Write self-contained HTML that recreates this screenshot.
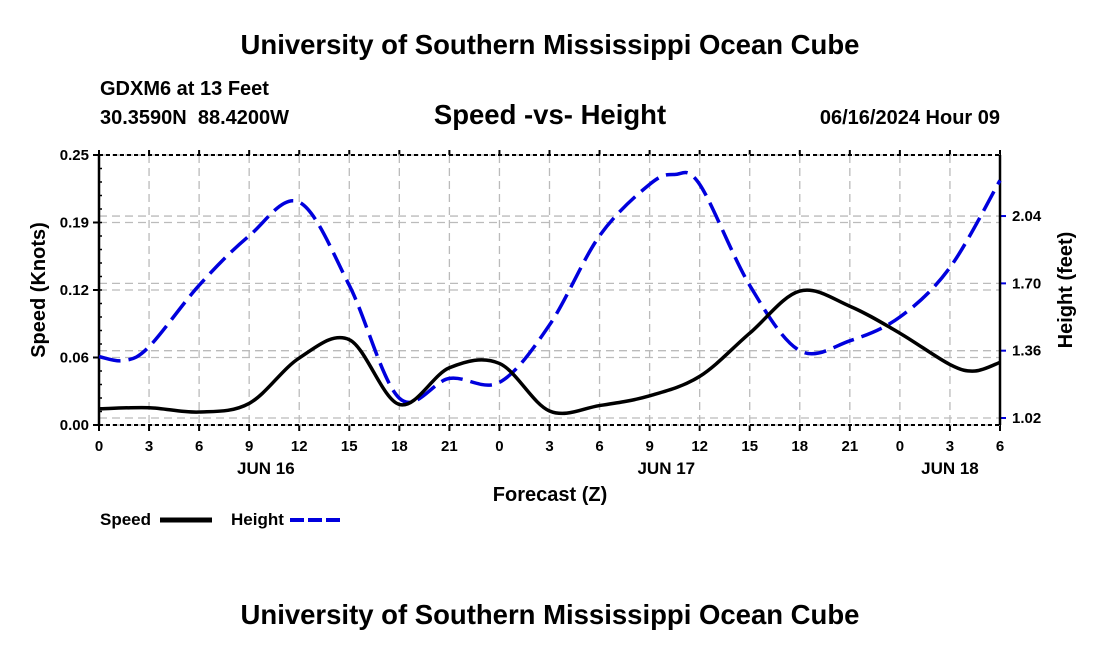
<!DOCTYPE html>
<html><head><meta charset="utf-8"><style>
body{margin:0;background:#fff;}
svg text{font-family:"Liberation Sans",Arial,sans-serif;font-weight:bold;fill:#000;}
</style></head><body>
<svg id="c" width="1100" height="650" viewBox="0 0 1100 650">
<text x="550" y="54" font-size="27.5" text-anchor="middle">University of Southern Mississippi Ocean Cube</text>
<text x="100" y="95" font-size="20">GDXM6 at 13 Feet</text>
<text x="100" y="124" font-size="20">30.3590N&#160;&#160;88.4200W</text>
<text x="550" y="124" font-size="27.5" text-anchor="middle">Speed -vs- Height</text>
<text x="1000" y="124" font-size="20" text-anchor="end">06/16/2024 Hour 09</text>
<text x="550" y="624" font-size="27.5" text-anchor="middle">University of Southern Mississippi Ocean Cube</text>
<text x="550" y="501" font-size="20" text-anchor="middle">Forecast (Z)</text>
<text transform="translate(45,290) rotate(-90)" font-size="20" text-anchor="middle">Speed (Knots)</text>
<text transform="translate(1072,290) rotate(-90)" font-size="20" text-anchor="middle">Height (feet)</text>
<g>
<text x="100" y="525" font-size="17">Speed</text>
<line x1="160" y1="520" x2="212" y2="520" stroke="#000" stroke-width="5"/>
<text x="231" y="525" font-size="17">Height</text>
<line x1="290" y1="520" x2="342" y2="520" stroke="#0000dd" stroke-width="4" stroke-dasharray="14,4"/>
</g>
<g id="plot"></g>
</svg>
<script>
const hours=[0,3,6,9,12,15,18,21,24,27,30,33,36,39,42,45,48,51,52.5,54];
const speed=[0.015,0.016,0.012,0.02,0.062,0.079,0.019,0.053,0.057,0.013,0.018,0.027,0.045,0.085,0.124,0.11,0.085,0.056,0.05,0.058];
const hHours=[0,1.5,3,6,9,12,15,18,21,24,27,30,33,34.5,36,39,42,45,48,51,54];
const height=[1.33,1.31,1.38,1.69,1.94,2.11,1.69,1.12,1.22,1.20,1.49,1.94,2.20,2.25,2.20,1.69,1.36,1.41,1.53,1.78,2.22];
const xTicks=["0","3","6","9","12","15","18","21","0","3","6","9","12","15","18","21","0","3","6"];
const leftTicks=[0,0.0625,0.125,0.1875,0.25];
const leftLabels=["0.00","0.06","0.12","0.19","0.25"];
const rightTicks=[1.02,1.36,1.70,2.04];
const dayLabels=["JUN 16","JUN 17","JUN 18"];
const dayHours=[10,34,51];
const X0=99,X1=1000,Y0=425,Y1=155;
const x=h=>X0+(h/54)*(X1-X0);
const yL=v=>Y0-(v/0.25)*(Y0-Y1);
const yR=v=>418-(v-1.02)*198;
const g=document.getElementById('plot');
const NS="http://www.w3.org/2000/svg";
function mk(t,a){const e=document.createElementNS(NS,t);for(const k in a)e.setAttribute(k,a[k]);g.appendChild(e);return e;}
xTicks.forEach((t,i)=>{const xx=x(i*3);
 let e=mk('line',{x1:xx,y1:Y1,x2:xx,y2:Y0,stroke:'#bbb','stroke-width':1.3,'stroke-dasharray':'8,5'});
 
 
 e=mk('line',{x1:xx,y1:Y0,x2:xx,y2:Y0+6,stroke:'#000','stroke-width':2});
 
 
 e=mk('line',{x1:xx,y1:Y1,x2:xx,y2:Y1-5,stroke:'#000','stroke-width':2});
 
 
 e=mk('text',{x:xx,y:451,'font-size':15,'text-anchor':'middle'});e.textContent=t;
 
 
});
dayLabels.forEach((d,i)=>{const e=mk('text',{x:x(dayHours[i]),y:474,'font-size':17,'text-anchor':'middle'});e.textContent=d;
 
 });
leftTicks.forEach((v,i)=>{const yy=yL(v);
 let e=mk('line',{x1:X0,y1:yy,x2:X1,y2:yy,stroke:'#bbb','stroke-width':1.3,'stroke-dasharray':'8,5'});
 
 
 e=mk('line',{x1:X0-6,y1:yy,x2:X0,y2:yy,stroke:'#000','stroke-width':2});
 
 
 e=mk('text',{x:X0-10,y:yy+5,'font-size':15,'text-anchor':'end'});e.textContent=leftLabels[i];
 
 
});
for(let v=0;v<=0.25;v+=0.0125){const yy=yL(v);const e=mk('line',{x1:X0,y1:yy,x2:X0+3,y2:yy,stroke:'#000','stroke-width':1.5});
 
 }
rightTicks.forEach(v=>{const yy=yR(v);
 let e=mk('line',{x1:X0,y1:yy,x2:X1,y2:yy,stroke:'#bbb','stroke-width':1.3,'stroke-dasharray':'8,5'});
 
 
 e=mk('line',{x1:X1,y1:yy,x2:X1+6,y2:yy,stroke:'#0000dd','stroke-width':2});
 
 
 e=mk('text',{x:X1+12,y:yy+5,'font-size':15});e.textContent=v.toFixed(2);
 
 
});
let a=mk('line',{x1:X0,y1:Y1,x2:X0,y2:Y0,stroke:'#000','stroke-width':2.5});


a=mk('line',{x1:X1,y1:Y1,x2:X1,y2:Y0,stroke:'#000','stroke-width':2.5});


a=mk('line',{x1:X0,y1:Y0,x2:X1,y2:Y0,stroke:'#000','stroke-width':2,'stroke-dasharray':'4,3'});


a=mk('line',{x1:X0,y1:Y1,x2:X1,y2:Y1,stroke:'#000','stroke-width':2,'stroke-dasharray':'4,3'});


function path(xs,ys){const p=xs.map((h,i)=>[x(h),ys[i]]);let d='M'+p[0][0]+','+p[0][1];
 for(let i=0;i<p.length-1;i++){const p0=p[i-1]||p[i],p1=p[i],p2=p[i+1],p3=p[i+2]||p2;
  const c1=[p1[0]+(p2[0]-p0[0])/6,p1[1]+(p2[1]-p0[1])/6],c2=[p2[0]-(p3[0]-p1[0])/6,p2[1]-(p3[1]-p1[1])/6];
  d+=' C'+c1+' '+c2+' '+p2;}return d;}
let s=mk('path',{d:path(hHours,height.map(yR)),fill:'none',stroke:'#0000dd','stroke-width':3.5,'stroke-dasharray':'22,8'});


s=mk('path',{d:path(hours,speed.map(yL)),fill:'none',stroke:'#000','stroke-width':3.5});


</script>
</body></html>
